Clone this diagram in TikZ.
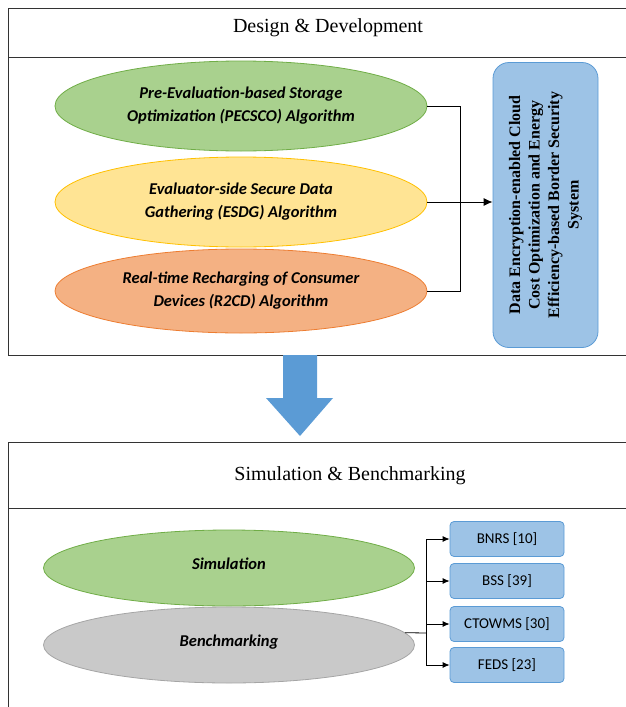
\documentclass[tikz,border=0pt]{standalone}
\usepackage{fontspec}
\setmainfont{Liberation Serif}
\newfontfamily\calibri{Carlito}
\usetikzlibrary{arrows.meta, positioning, shapes.geometric}
\definecolor{mGreen}{HTML}{A9D18E}
\definecolor{mGreenLine}{HTML}{70AD47}
\definecolor{mYellow}{HTML}{FFD966}
\definecolor{mYellowLine}{HTML}{FFC000}
\definecolor{mOrange}{HTML}{F4B183}
\definecolor{mOrangeLine}{HTML}{ED7D31}
\definecolor{mGray}{HTML}{C9C9C9}
\definecolor{mGrayLine}{HTML}{A5A5A5}
\definecolor{mBlue}{HTML}{9DC3E6}
\definecolor{mBlueLine}{HTML}{5B9BD5}

\begin{document}
\begin{tikzpicture}[x=1pt, y=-1pt,
      oval/.style={ellipse, draw, line width=0.8pt, inner sep=0pt, align=center,
        minimum width=372pt, minimum height=90pt,
        font=\calibri\bfseries\itshape\fontsize{16.5}{23}\selectfont},
      bench/.style={draw=mBlueLine, fill=mBlue, line width=0.8pt, rounded corners=4pt,
        minimum width=114pt, minimum height=35pt, font=\calibri\fontsize{15}{17}\selectfont},
      frame/.style={draw=black!80, line width=1pt},
      heading/.style={font=\fontsize{20}{24}\selectfont},
      link/.style={line width=0.8pt}]
    \useasboundingbox (0,0) rectangle (625,707);
    % design & development panel
    \draw[frame] (8,8) rectangle (640,355);
    \draw[frame] (8,57) -- (640,57);
    \node[heading] (design) at (328,28) {Design \& Development};
    \node[oval, fill=mGreen, draw=mGreenLine] (pecsco) at (241,106)
      {Pre-Evaluation-based Storage\\Optimization (PECSCO) Algorithm};
    \node[oval, fill=mYellow!70, draw=mYellowLine] (esdg) at (241,202)
      {Evaluator-side Secure Data\\Gathering (ESDG) Algorithm};
    \node[oval, fill=mOrange, draw=mOrangeLine, minimum height=84pt] (r2cd) at (241,291)
      {Real-time Recharging of Consumer\\Devices (R2CD) Algorithm};
    \node[draw=mBlueLine, fill=mBlue, line width=0.8pt, rounded corners=16pt, rotate=90,
      minimum width=285pt, minimum height=105pt, align=center,
      font=\bfseries\fontsize{16}{19.5}\selectfont] (system) at (545.5,205)
      {Data Encryption-enabled Cloud\\Cost Optimization and Energy\\Efficiency-based Border Security\\System};
    \coordinate (join) at (460,0);
    \draw[link] (pecsco.east) -- (pecsco.east -| join) -- (r2cd.east -| join) -- (r2cd.east);
    \draw[link, -{Latex[length=9pt, width=8pt]}] (esdg.east) -- (esdg.east -| system.north);
    % big arrow between panels
    \fill[mBlueLine] (283,355) -- (317,355) -- (317,398) -- (333,398) -- (300,436)
      -- (266,398) -- (283,398) -- cycle;
    % simulation & benchmarking panel
    \draw[frame] (640,442) -- (8,442) -- (8,720);
    \draw[frame] (8,508) -- (640,508);
    \node[heading] (simbench) at (350,476) {Simulation \& Benchmarking};
    \node[oval, fill=mGreen, draw=mGreenLine, minimum width=371pt, minimum height=76pt]
      (sim) at (229,568) {\raisebox{8pt}{Simulation}};
    \node[oval, fill=mGray, draw=mGrayLine, minimum width=371pt, minimum height=76pt]
      (bench) at (229,645) {\raisebox{8pt}{Benchmarking}};
    \coordinate (branch) at (426,633);
    \draw[link] (bench.4) -- (branch);
    \foreach \n/\t/\y in {bnrs/BNRS [10]/539, bss/BSS [39]/581, ctowms/CTOWMS [30]/624, feds/FEDS [23]/665} {
      \node[bench] (\n) at (507,\y) {\t};
      \draw[link, -{Latex[length=7pt, width=6pt]}] (branch |- \n.west) -- (\n.west);
    }
    \draw[link] (branch |- bnrs.west) -- (branch |- feds.west);
  \end{tikzpicture}
\end{document}
